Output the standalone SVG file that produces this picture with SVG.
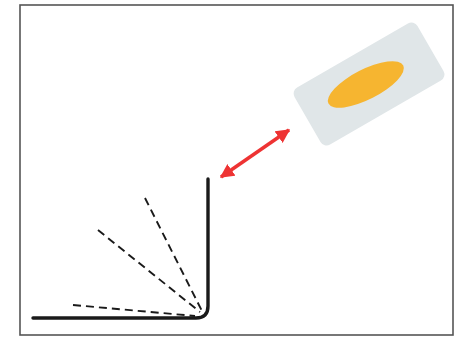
<svg xmlns="http://www.w3.org/2000/svg" width="454" height="337" viewBox="0 0 454 337">
<defs>
<style>
.frame{fill:#fff;stroke:#555;stroke-width:1.6}
.solid{fill:none;stroke:#1a1a1a;stroke-width:3.4;stroke-linecap:round}
.dash{fill:none;stroke:#1a1a1a;stroke-width:1.9;stroke-dasharray:8,5}
.arrow{fill:none;stroke:#ee3333;stroke-width:3.5}
</style>
<marker id="ah" viewBox="0 0 10 10" refX="9" refY="5" markerWidth="4" markerHeight="4" orient="auto-start-reverse" markerUnits="strokeWidth">
<path d="M0,0 L10,5 L0,10 z" fill="#ee3333"/>
</marker>
</defs>
<rect x="0" y="0" width="454" height="337" fill="#fff"/>
<rect class="frame" x="20" y="5" width="433" height="330"/>
<g id="card" transform="translate(369,84) rotate(-30)">
<rect x="-71" y="-33" width="142" height="66" rx="7" fill="#e0e6e8"/>
<ellipse cx="-3" cy="-1" rx="42" ry="15" fill="#f6b530" transform="rotate(3)"/>
</g>
<g id="surface">
<path class="solid" d="M208,179 L208,306 Q208,318 196,318 L33,318"/>
</g>
<g id="rays">
<line class="dash" x1="145" y1="198" x2="202" y2="311"/>
<line class="dash" x1="98" y1="230" x2="200" y2="312"/>
<line class="dash" x1="73" y1="305" x2="195" y2="316"/>
</g>
<g id="connectors">
<line class="arrow" x1="221" y1="177" x2="289" y2="130" marker-start="url(#ah)" marker-end="url(#ah)"/>
</g>
</svg>
